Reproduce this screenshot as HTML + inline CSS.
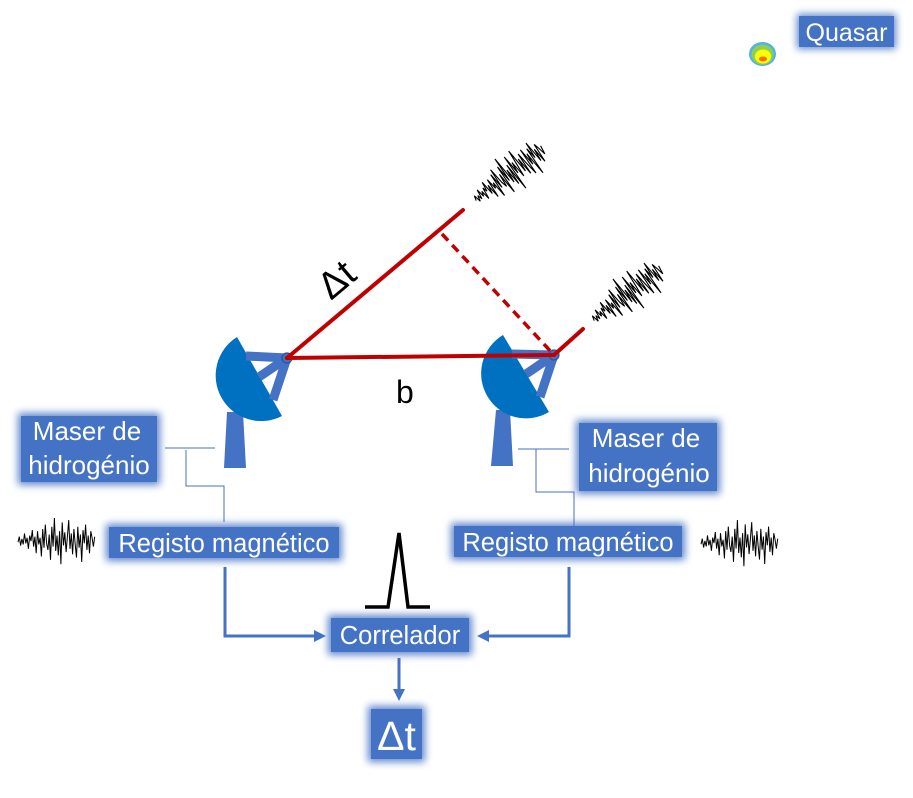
<!DOCTYPE html>
<html><head><meta charset="utf-8"><style>
html,body{margin:0;padding:0;background:#fff;}
svg{display:block;}
text{font-family:"Liberation Sans",sans-serif;}
</style></head><body>
<svg width="913" height="798" viewBox="0 0 913 798" xmlns="http://www.w3.org/2000/svg">
<defs>
<filter id="glow" x="-30%" y="-60%" width="160%" height="220%"><feGaussianBlur stdDeviation="4"/></filter>
<path id="noise" fill="none" stroke="#000" stroke-width="1" d="M0 2 L1.3 -3 L2.6 5 L3.9 -1 L5.2 4 L6.5 -6 L7.8 3 L9.1 -2 L10.4 8 L11.7 -4 L13 1 L14.3 -9 L15.6 6 L16.9 -3 L18.2 12 L19.5 -8 L20.8 4 L22.1 -2 L23.4 15 L24.7 -10 L26 7 L27.3 -14 L28.6 3 L29.9 9 L31.2 -5 L32.5 18 L33.8 -12 L35.1 6 L36.4 -20 L37.7 10 L39 -4 L40.3 14 L41.6 -8 L42.9 22 L44.2 -16 L45.5 5 L46.8 -7 L48.1 11 L49.4 -3 L50.7 -18 L52 8 L53.3 -6 L54.6 13 L55.9 -10 L57.2 4 L58.5 16 L59.8 -12 L61.1 7 L62.4 -5 L63.7 20 L65 -9 L66.3 3 L67.6 -14 L68.9 9 L70.2 -4 L71.5 12 L72.8 -8 L74.1 -2 L75.4 6 L76.7 -3"/>
</defs>

<!-- Quasar blob -->
<ellipse cx="762.5" cy="54" rx="13.5" ry="12" fill="#4fb3e8"/>
<ellipse cx="762.5" cy="54.5" rx="11" ry="10" fill="#8fd14f"/>
<ellipse cx="763" cy="56.5" rx="8" ry="7" fill="#ffff00"/>
<ellipse cx="763" cy="59" rx="4" ry="2.5" fill="#ff6a00"/>

<!-- Quasar box -->
<rect x="797" y="14" width="99" height="35" fill="#4472C4" filter="url(#glow)" opacity="0.85"/>
<rect x="799" y="16" width="95" height="31" fill="#4472C4"/>
<text x="846.5" y="41" font-size="25" fill="#fff" text-anchor="middle">Quasar</text>

<!-- noise waveforms -->
<use href="#noise" transform="translate(475,199) rotate(-37) scale(1.1,1)"/>
<use href="#noise" transform="translate(593,319) rotate(-37) scale(1.1,1)"/>
<use href="#noise" transform="translate(18,540) scale(1,1.1)"/>
<use href="#noise" transform="translate(701,542) scale(1,1.1)"/>

<!-- pedestals -->
<polygon points="227,412 243,412 246,468 224,468" fill="#4472C4"/>
<polygon points="496,410 510,410 513,466 491,466" fill="#4472C4"/>

<!-- dishes -->
<path d="M237 337 A45.5 45.5 0 0 0 282 416 Z" fill="#0070C0"/>
<path d="M503 335 A44.8 44.8 0 0 0 549 412 Z" fill="#0070C0"/>
<g stroke="#4472C4" stroke-width="9" stroke-linecap="butt">
<line x1="246" y1="356" x2="287" y2="358"/>
<line x1="259" y1="377" x2="287" y2="358"/>
<line x1="273" y1="400" x2="287" y2="358"/>
<line x1="512" y1="354" x2="554" y2="355"/>
<line x1="526" y1="374" x2="554" y2="355"/>
<line x1="540" y1="397" x2="554" y2="355"/>
</g>
<circle cx="287" cy="358" r="5" fill="#4472C4" stroke="#2F528F" stroke-width="1.2"/>
<circle cx="554" cy="355" r="5" fill="#4472C4" stroke="#2F528F" stroke-width="1.2"/>

<!-- red lines -->
<g stroke="#C00000" stroke-width="4" fill="none" stroke-linecap="round">
<line x1="287" y1="358" x2="463" y2="210"/>
<line x1="287" y1="358" x2="554" y2="355"/>
<line x1="554" y1="355" x2="583" y2="329"/>
<line x1="442" y1="234" x2="554" y2="355" stroke-dasharray="9 6" stroke-linecap="butt" stroke-width="3.5"/>
</g>

<!-- labels on lines -->
<text x="0" y="0" font-size="38" fill="#000" transform="translate(331,301) rotate(-40)">Δt</text>
<text x="396" y="403" font-size="32" fill="#000">b</text>

<!-- thin connectors -->
<g stroke="#4472C4" stroke-width="1" fill="none">
<line x1="165" y1="448" x2="215" y2="448"/>
<polyline points="186,450 186,486 224,486 224,522"/>
<line x1="518" y1="449" x2="569" y2="449"/>
<polyline points="536,449 536,492 574,492 574,527"/>
</g>

<!-- Maser left -->
<rect x="18" y="413" width="142" height="72" fill="#4472C4" filter="url(#glow)" opacity="0.85"/>
<rect x="21" y="416" width="136" height="66" fill="#4472C4"/>
<text x="87" y="440" font-size="26" fill="#fff" text-anchor="middle">Maser de</text>
<text x="89" y="474" font-size="26" fill="#fff" text-anchor="middle">hidrogénio</text>

<!-- Maser right -->
<rect x="576" y="420" width="144" height="74" fill="#4472C4" filter="url(#glow)" opacity="0.85"/>
<rect x="579" y="423" width="138" height="68" fill="#4472C4"/>
<text x="646" y="447" font-size="26" fill="#fff" text-anchor="middle">Maser de</text>
<text x="649" y="482" font-size="26" fill="#fff" text-anchor="middle">hidrogénio</text>

<!-- Registo boxes -->
<rect x="106" y="524" width="236" height="37" fill="#4472C4" filter="url(#glow)" opacity="0.85"/>
<rect x="109" y="527" width="230" height="31" fill="#4472C4"/>
<text x="224" y="552" font-size="25.5" fill="#fff" text-anchor="middle">Registo magnético</text>

<rect x="451" y="523" width="234" height="37" fill="#4472C4" filter="url(#glow)" opacity="0.85"/>
<rect x="454" y="526" width="228" height="31" fill="#4472C4"/>
<text x="568" y="551" font-size="25.5" fill="#fff" text-anchor="middle">Registo magnético</text>

<!-- pulse -->
<polyline points="365,607 388,607 399,533 408,607 430,607" fill="none" stroke="#000" stroke-width="3.5" stroke-linejoin="miter"/>

<!-- arrows -->
<g stroke="#4472C4" stroke-width="3" fill="none">
<polyline points="225,567 225,636 316,636"/>
<polyline points="569,567 569,636 487,636"/>
<line x1="399" y1="658" x2="399" y2="691"/>
</g>
<polygon points="314,630 326,636 314,642" fill="#4472C4"/>
<polygon points="489,630 477,636 489,642" fill="#4472C4"/>
<polygon points="393,689 399,701 405,689" fill="#4472C4"/>

<!-- Correlador -->
<rect x="328" y="615" width="144" height="40" fill="#4472C4" filter="url(#glow)" opacity="0.85"/>
<rect x="331" y="618" width="138" height="34" fill="#4472C4"/>
<text x="400" y="644" font-size="25.5" fill="#fff" text-anchor="middle">Correlador</text>

<!-- Delta t box -->
<rect x="368" y="706" width="57" height="56" fill="#4472C4" filter="url(#glow)" opacity="0.85"/>
<rect x="371" y="709" width="51" height="50" fill="#4472C4"/>
<text x="396.5" y="750" font-size="41" fill="#fff" text-anchor="middle">Δt</text>
</svg>
</body></html>
